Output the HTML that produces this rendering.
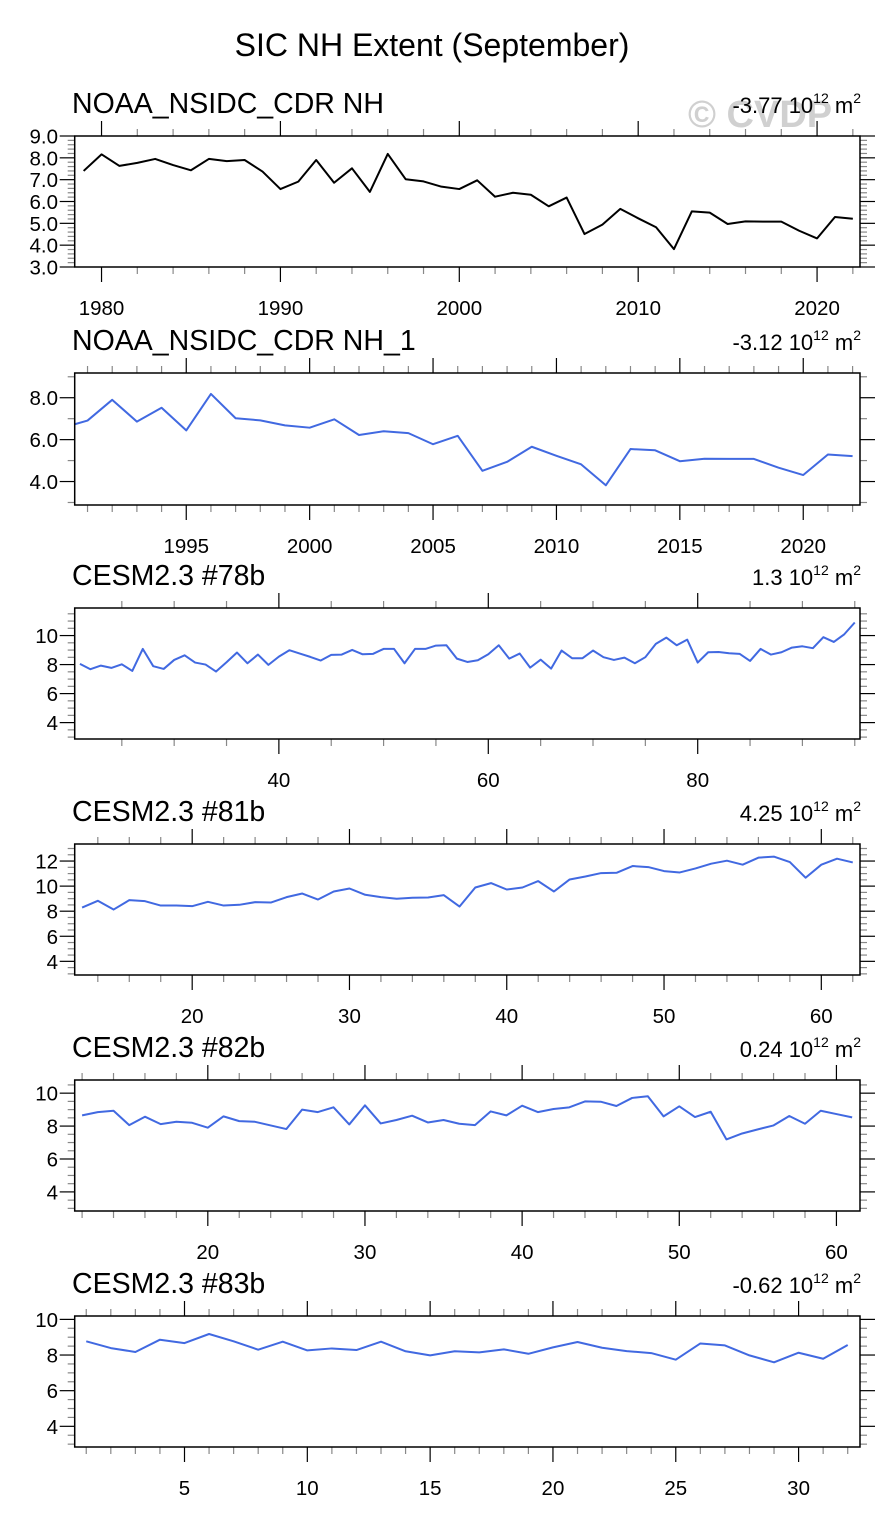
<!DOCTYPE html>
<html><head><meta charset="utf-8"><title>SIC NH Extent (September)</title>
<style>
html,body{margin:0;padding:0;background:#fff;}
svg{display:block;font-family:"Liberation Sans",Arial,sans-serif;}
</style></head>
<body>
<svg id="chart" width="891" height="1525" viewBox="0 0 891 1525" xmlns="http://www.w3.org/2000/svg">
<text x="432" y="56" font-size="32" text-anchor="middle">SIC NH Extent (September)</text>
<text x="688" y="127" font-size="38" font-weight="bold" fill="#d0d0d0">© CVDP</text>
</svg>
<script>
// Panel 1: observations 1979-2022
const obsYears = [1979,1980,1981,1982,1983,1984,1985,1986,1987,1988,1989,1990,1991,1992,1993,1994,1995,1996,1997,1998,1999,2000,2001,2002,2003,2004,2005,2006,2007,2008,2009,2010,2011,2012,2013,2014,2015,2016,2017,2018,2019,2020,2021,2022];
const obsValues = [7.40,8.16,7.63,7.77,7.95,7.67,7.43,7.95,7.85,7.90,7.37,6.57,6.91,7.90,6.86,7.52,6.44,8.18,7.02,6.92,6.68,6.57,6.97,6.22,6.40,6.31,5.78,6.18,4.51,4.94,5.66,5.23,4.82,3.82,5.55,5.49,4.97,5.09,5.08,5.08,4.66,4.31,5.29,5.21];
// Panel 3: CESM2.3 #78b, years 21-95
const m78Start = 21;
const m78Values = [8.05,7.68,7.93,7.77,8.02,7.56,9.08,7.89,7.70,8.32,8.64,8.14,8.00,7.52,8.16,8.83,8.09,8.69,7.98,8.55,8.99,8.76,8.53,8.28,8.67,8.69,9.01,8.71,8.74,9.08,9.08,8.09,9.08,9.08,9.31,9.33,8.41,8.18,8.30,8.71,9.33,8.41,8.76,7.79,8.34,7.72,8.97,8.44,8.44,8.97,8.51,8.32,8.48,8.09,8.51,9.43,9.86,9.33,9.72,8.14,8.85,8.87,8.78,8.74,8.25,9.08,8.69,8.85,9.17,9.26,9.13,9.89,9.56,10.09,10.90];
// Panel 4: CESM2.3 #81b, years 13-62
const m81Start = 13;
const m81Values = [8.29,8.83,8.13,8.88,8.80,8.45,8.45,8.40,8.75,8.45,8.51,8.72,8.69,9.12,9.41,8.93,9.57,9.81,9.31,9.12,8.99,9.07,9.09,9.28,8.37,9.89,10.24,9.73,9.89,10.40,9.57,10.53,10.77,11.04,11.07,11.60,11.52,11.20,11.09,11.41,11.79,12.03,11.71,12.27,12.35,11.92,10.67,11.71,12.19,11.89];
// Panel 5: CESM2.3 #82b, years 12-61
const m82Start = 12;
const m82Values = [8.65,8.85,8.93,8.06,8.57,8.12,8.26,8.20,7.90,8.59,8.30,8.26,8.04,7.82,9.00,8.85,9.14,8.10,9.26,8.16,8.37,8.63,8.22,8.37,8.14,8.06,8.89,8.65,9.24,8.85,9.04,9.14,9.50,9.48,9.22,9.71,9.81,8.59,9.20,8.55,8.87,7.19,7.55,7.80,8.04,8.61,8.14,8.93,8.73,8.53];
// Panel 6: CESM2.3 #83b, years 1-32
const m83Start = 1;
const m83Values = [8.77,8.39,8.17,8.86,8.67,9.18,8.77,8.30,8.75,8.26,8.37,8.28,8.75,8.21,7.98,8.21,8.15,8.32,8.07,8.43,8.73,8.41,8.22,8.11,7.74,8.65,8.54,7.98,7.59,8.13,7.79,8.56];
// Titles and trend labels
const panelTitles = ["NOAA_NSIDC_CDR NH","NOAA_NSIDC_CDR NH_1","CESM2.3 #78b","CESM2.3 #81b","CESM2.3 #82b","CESM2.3 #83b"];
const trendValues = ["-3.77","-3.12","1.3","4.25","0.24","-0.62"];

const NS = "http://www.w3.org/2000/svg";
const svg = document.getElementById('chart');
function mk(tag, attrs, parent){
  const e = document.createElementNS(NS, tag);
  for (const k in attrs) e.setAttribute(k, attrs[k]);
  (parent||svg).appendChild(e);
  return e;
}
function seq(start, n){ const a=[]; for(let i=0;i<n;i++) a.push(start+i); return a; }

const L = 74.7, R = 860;
const panels = [
  {top:136, bot:267, x0:1978.5, x1:2022.4, y0:3, y1:9, xs:obsYears, ys:obsValues, color:"#000", xMaj:10, xMajStart:1980, xMin:2, yMaj:1, yMin:0.2, yFmt:1, clip:false},
  {top:373, bot:505, x0:1990.48, x1:2022.3, y0:2.88, y1:9.18, xs:obsYears, ys:obsValues, color:"#4169e1", xMaj:5, xMajStart:1995, xMin:1, yMaj:2, yMin:1, yFmt:1, clip:true, yLabStart:4},
  {top:608, bot:739, x0:20.5, x1:95.5, y0:2.87, y1:11.9, xs:seq(m78Start,m78Values.length), ys:m78Values, color:"#4169e1", xMaj:20, xMajStart:40, xMin:5, yMaj:2, yMin:0.5, yFmt:0, clip:true, yLabStart:4},
  {top:844, bot:975, x0:12.53, x1:62.46, y0:2.91, y1:13.36, xs:seq(m81Start,m81Values.length), ys:m81Values, color:"#4169e1", xMaj:10, xMajStart:20, xMin:2, yMaj:2, yMin:0.5, yFmt:0, clip:true, yLabStart:4},
  {top:1080, bot:1211, x0:11.53, x1:61.5, y0:2.84, y1:10.8, xs:seq(m82Start,m82Values.length), ys:m82Values, color:"#4169e1", xMaj:10, xMajStart:20, xMin:2, yMaj:2, yMin:0.5, yFmt:0, clip:true, yLabStart:4},
  {top:1316, bot:1447, x0:0.53, x1:32.5, y0:2.84, y1:10.19, xs:seq(m83Start,m83Values.length), ys:m83Values, color:"#4169e1", xMaj:5, xMajStart:5, xMin:1, yMaj:2, yMin:0.5, yFmt:0, clip:true, yLabStart:4}
];

panels.forEach((p, pi) => {
  const g = mk('g', {});
  
  
  const X = v => L + (v - p.x0) / (p.x1 - p.x0) * (R - L);
  const Y = v => p.bot - (v - p.y0) / (p.y1 - p.y0) * (p.bot - p.top);

  const t = mk('text', {x:72, y:p.top-23, 'font-size':28.5}, g);
  t.textContent = panelTitles[pi];
  
  

  const tr = mk('text', {x:861, y:p.top-23, 'font-size':22, 'text-anchor':'end'}, g);
  
  
  const s1 = mk('tspan', {}, tr); s1.textContent = trendValues[pi] + " 10";
  const s2 = mk('tspan', {dy:-10, 'font-size':14}, tr); s2.textContent = "12";
  const s3 = mk('tspan', {dy:10}, tr); s3.textContent = " m";
  const s4 = mk('tspan', {dy:-10, 'font-size':14}, tr); s4.textContent = "2";

  const xt = mk('g', {}, g);
  
  
  const eps = 1e-6;
  for (let v = Math.ceil(p.x0 / p.xMin - eps) * p.xMin; v <= p.x1 + eps; v += p.xMin) {
    const x = X(v);
    const isMaj = Math.abs(((v - p.xMajStart) / p.xMaj) - Math.round((v - p.xMajStart) / p.xMaj)) < 1e-6;
    const len = isMaj ? 15 : 7;
    const col = isMaj ? "#000" : "#888";
    mk('line', {x1:x, x2:x, y1:p.bot, y2:p.bot+len, stroke:col, 'stroke-width':1.2}, xt);
    mk('line', {x1:x, x2:x, y1:p.top, y2:p.top-len, stroke:col, 'stroke-width':1.2}, xt);
    if (isMaj) {
      const lb = mk('text', {x:x, y:p.bot+48, 'font-size':20.5, 'text-anchor':'middle'}, xt);
      lb.textContent = String(Math.round(v));
      
      
    }
  }
  const yt = mk('g', {}, g);
  
  
  for (let v = Math.ceil(p.y0 / p.yMin - eps) * p.yMin; v <= p.y1 + eps; v += p.yMin) {
    const y = Y(v);
    const r = v / p.yMaj;
    const isMaj = Math.abs(r - Math.round(r)) < 1e-6;
    const len = isMaj ? 15 : 7;
    const col = isMaj ? "#000" : "#888";
    mk('line', {x1:L, x2:L-len, y1:y, y2:y, stroke:col, 'stroke-width':1.2}, yt);
    mk('line', {x1:R, x2:R+len, y1:y, y2:y, stroke:col, 'stroke-width':1.2}, yt);
    if (isMaj && (p.yLabStart === undefined || v >= p.yLabStart - eps)) {
      const lb = mk('text', {x:58, y:y+7.5, 'font-size':20.5, 'text-anchor':'end'}, yt);
      lb.textContent = v.toFixed(p.yFmt);
      
      
    }
  }
  const cid = 'clip' + pi;
  const cp = mk('clipPath', {id:cid}, g);
  mk('rect', {x:L, y:p.top, width:R-L, height:p.bot-p.top}, cp);
  let d = "";
  p.xs.forEach((xv, i) => { d += (i ? "L" : "M") + X(xv).toFixed(2) + "," + Y(p.ys[i]).toFixed(2); });
  const path = mk('path', {d:d, fill:'none', stroke:p.color, 'stroke-width':2, 'stroke-linejoin':'round', 'clip-path':'url(#' + cid + ')'}, g);
  
  
  const fr = mk('rect', {x:L, y:p.top, width:R-L, height:p.bot-p.top, fill:'none', stroke:'#000', 'stroke-width':1.5}, g);
  
  
});
</script>
</body></html>
